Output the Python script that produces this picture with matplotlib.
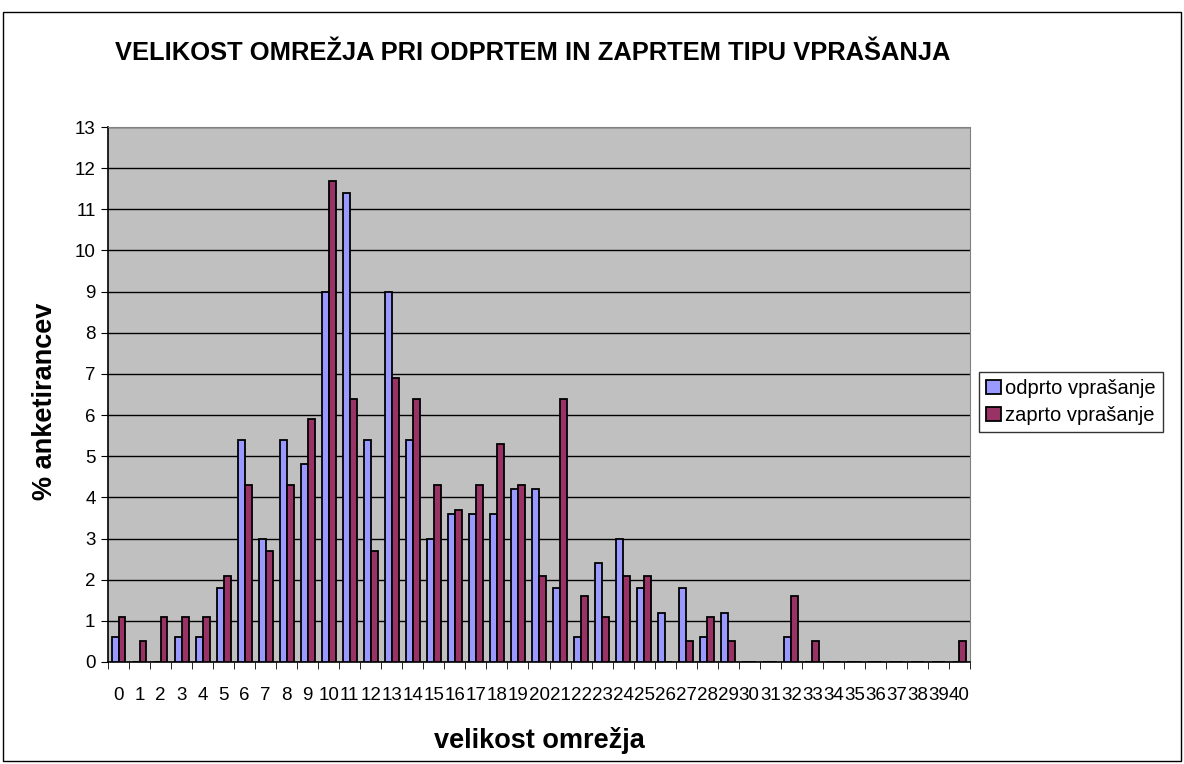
import matplotlib.pyplot as plt
import numpy as np

plt.rcParams['font.family'] = ['Liberation Sans', 'DejaVu Sans']

# podatki
velikost = list(range(0, 41))
odprto = [0.6, 0, 0, 0.6, 0.6, 1.8, 5.4, 3.0, 5.4, 4.8,
          9.0, 11.4, 5.4, 9.0, 5.4, 3.0, 3.6, 3.6, 3.6, 4.2,
          4.2, 1.8, 0.6, 2.4, 3.0, 1.8, 1.2, 1.8, 0.6, 1.2,
          0, 0, 0.6, 0, 0, 0, 0, 0, 0, 0, 0]
zaprto = [1.1, 0.5, 1.1, 1.1, 1.1, 2.1, 4.3, 2.7, 4.3, 5.9,
          11.7, 6.4, 2.7, 6.9, 6.4, 4.3, 3.7, 4.3, 5.3, 4.3,
          2.1, 6.4, 1.6, 1.1, 2.1, 2.1, 0, 0.5, 1.1, 0.5,
          0, 0, 1.6, 0.5, 0, 0, 0, 0, 0, 0, 0.5]

fig = plt.figure(figsize=(11.84, 7.64), dpi=100)
ax = fig.add_axes([108/1184, 1 - 662/764, (970-108)/1184, (662-127)/764])

x = np.arange(len(velikost))
w = 0.33
ax.bar(x - w/2, odprto, w, color='#9999FF', edgecolor='black', linewidth=1.3,
       label='odprto vprašanje', zorder=3)
ax.bar(x + w/2, zaprto, w, color='#993366', edgecolor='black', linewidth=1.3,
       label='zaprto vprašanje', zorder=3)

ax.set_facecolor('#C0C0C0')
ax.set_xlim(-0.5, len(velikost) - 0.5)
ax.set_ylim(0, 13)
ax.set_yticks(range(0, 14))
ax.yaxis.grid(True, color='black', linewidth=1, zorder=1)
ax.set_xticks(x)
ax.set_xticklabels([str(v) for v in velikost], fontsize=13.5)
ax.set_xticks(np.arange(-0.5, len(velikost)), minor=True)
ax.tick_params(axis='x', which='major', length=0, pad=18)
ax.tick_params(axis='x', which='minor', length=5, color='black')
ax.tick_params(axis='y', labelsize=13.5, length=5, color='black', pad=4)

for s in ['top', 'right']:
    ax.spines[s].set_color('#808080')
for s in ['left', 'bottom']:
    ax.spines[s].set_color('black')
    ax.spines[s].set_linewidth(1.2)

fig.text(539/1184, 1 - 740/764, 'velikost omrežja', fontsize=19.5,
         fontweight='bold', ha='center', va='center')
fig.text(45/1184, 1 - 401/764, '% anketirancev', fontsize=19.5,
         fontweight='bold', ha='center', va='center', rotation=90)
fig.text(533/1184, 1 - 53/764, 'VELIKOST OMREŽJA PRI ODPRTEM IN ZAPRTEM TIPU VPRAŠANJA',
         fontsize=18.4, fontweight='bold', ha='center', va='center')

leg = ax.legend(loc='center left', bbox_to_anchor=(979/1184, 1 - 402/764),
                bbox_transform=fig.transFigure, fontsize=14.5, frameon=True,
                fancybox=False, edgecolor='black', handlelength=0.75,
                handleheight=0.75, handletextpad=0.2, borderpad=0.35,
                labelspacing=0.4, borderaxespad=0)
leg.get_frame().set_linewidth(1)

# okvir slike
fig.patches.append(plt.Rectangle((3/1184, 3/764), 1 - 6/1184, 1 - 15/764,
                                 transform=fig.transFigure, fill=False,
                                 edgecolor='black', linewidth=1))

fig.savefig('out.png', dpi=100)
